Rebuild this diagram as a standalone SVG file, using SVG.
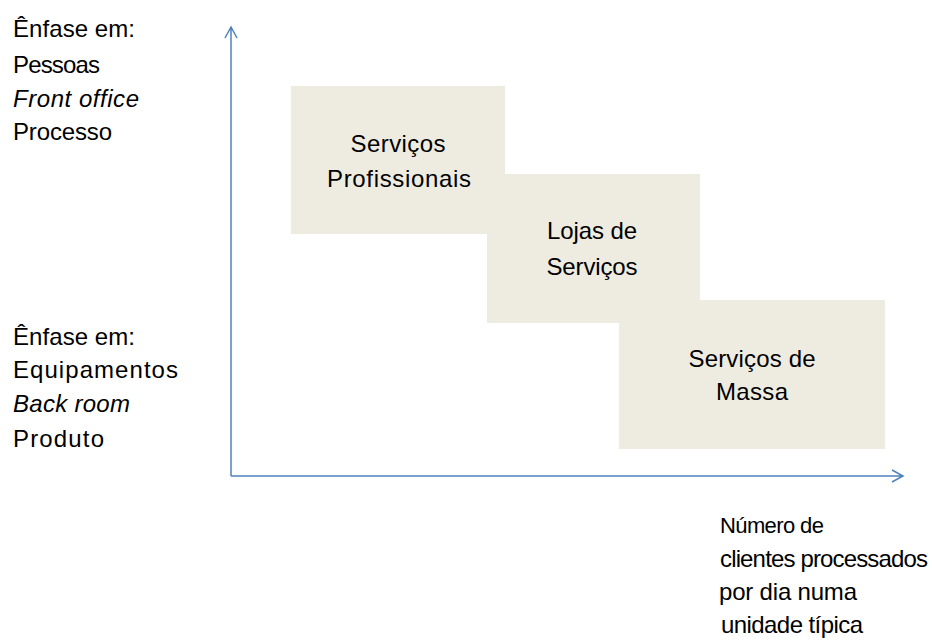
<svg xmlns="http://www.w3.org/2000/svg" width="932" height="640" viewBox="0 0 932 640">
<style>
text{font-family:"Liberation Sans",Arial,sans-serif;font-size:24px;fill:#000}
.c{text-anchor:middle}
.i{font-style:italic}
.box{fill:#EEECE1}
.ax{stroke:#4F81BD;stroke-width:1.5;fill:none}
</style>
<rect width="932" height="640" fill="#fff"/>
<g id="labels-top">
<text x="13" y="37" textLength="122">Ênfase em:</text>
<text x="13" y="73" textLength="87">Pessoas</text>
<text x="13" y="107" class="i" textLength="126">Front office</text>
<text x="13" y="140" textLength="99">Processo</text>
</g>
<g id="labels-bottom">
<text x="13" y="345" textLength="122">Ênfase em:</text>
<text x="13" y="378" textLength="165">Equipamentos</text>
<text x="13" y="412" class="i" textLength="117">Back room</text>
<text x="13" y="447" textLength="91">Produto</text>
</g>
<g id="box1"><rect class="box" x="291" y="86" width="214" height="148"/>
<text class="c" x="398" y="152" textLength="95">Serviços</text><text class="c" x="399" y="187" textLength="144">Profissionais</text></g>
<g id="box2"><rect class="box" x="487" y="174" width="213" height="149"/>
<text class="c" x="592" y="239" textLength="90">Lojas de</text><text class="c" x="592" y="275" textLength="91">Serviços</text></g>
<g id="box3"><rect class="box" x="619" y="300" width="266" height="149"/>
<text class="c" x="752" y="367" textLength="127">Serviços de</text><text class="c" x="752" y="400" textLength="72">Massa</text></g>
<g id="connectors">
<path class="ax" d="M231,476 V27 M225,38 L231,27 L237,38"/>
<path class="ax" d="M231,476 H903 M892,470 L903,476 L892,482"/>
</g>
<g id="axis-label">
<text x="720" y="533" style="font-size:22px" textLength="104">Número de</text>
<text x="720" y="567" textLength="208">clientes processados</text>
<text x="719" y="600" textLength="138">por  dia  numa</text>
<text x="721" y="633" textLength="142">unidade típica</text>
</g>
</svg>
